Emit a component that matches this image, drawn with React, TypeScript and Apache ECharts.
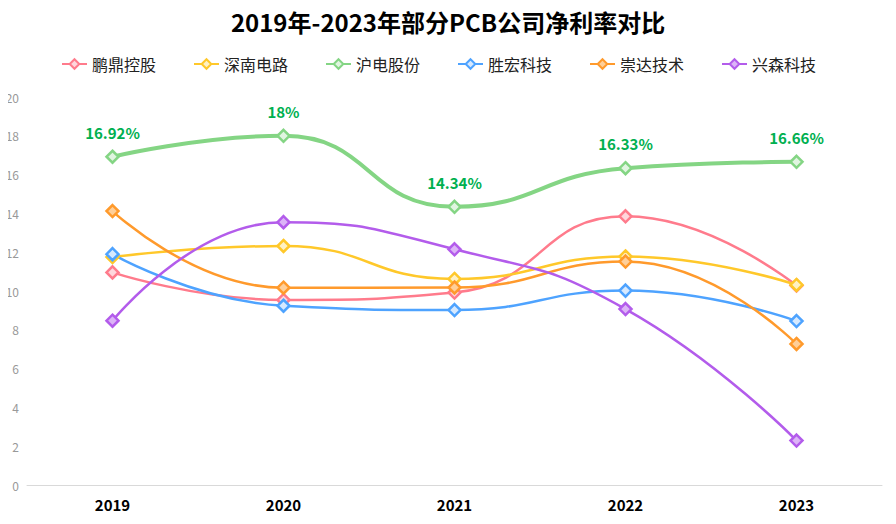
import React, { useEffect, useRef } from "react";
import * as echarts from "echarts";

const years = ["2019", "2020", "2021", "2022", "2023"];
const pengding = [10.96, 9.54, 9.92, 13.85, 10.28];
const shennan = [11.75, 12.32, 10.62, 11.78, 10.31];
const hudian = [16.92, 18, 14.34, 16.33, 16.66];
const shenghong = [11.9, 9.24, 9.02, 10.02, 8.45];
const chongda = [14.12, 10.17, 10.18, 11.52, 7.27];
const xingsen = [8.47, 13.55, 12.15, 9.07, 2.29];

const names = ["鹏鼎控股", "深南电路", "沪电股份", "胜宏科技", "崇达技术", "兴森科技"];
const colors = ["#ff7b8c", "#ffc82a", "#84d584", "#4ea3ff", "#ff9a2c", "#b35ceb"];
const fills = ["#ffd6dc", "#fff1c4", "#e0f5e0", "#d6e9ff", "#ffcf99", "#dcb4f7"];

export default function App() {
  const ref = useRef<HTMLDivElement>(null);
  useEffect(() => {
    if (!ref.current) return;
    const chart = echarts.init(ref.current, null, { renderer: "svg" });
    const data = [pengding, shennan, hudian, shenghong, chongda, xingsen];
    const font = "'Noto Sans CJK SC', 'Noto Sans', sans-serif";
    chart.setOption({
      animation: false,
      textStyle: { fontFamily: font },
      title: {
        text: "2019年-2023年部分PCB公司净利率对比",
        left: "center",
        top: 9,
        padding: 0,
        textStyle: { fontSize: 24, fontWeight: "bold", color: "#000", fontFamily: font },
      },
      legend: {
        top: 51,
        left: 56,
        itemWidth: 25,
        itemHeight: 12,
        itemGap: 37,
        textStyle: { fontSize: 16, color: "#222", fontFamily: font },
        data: names,
      },
      grid: {
        left: 27,
        right: 14,
        top: 97,
        bottom: 39,
        containLabel: false,
        outerBoundsMode: "none",
      },
      xAxis: {
        type: "category",
        data: years,
        axisLine: { lineStyle: { color: "#d9d9d9" } },
        axisTick: { lineStyle: { color: "#d9d9d9" } },
        axisLabel: { fontSize: 15, fontWeight: "bold", color: "#000", margin: 12 },
      },
      yAxis: {
        type: "value",
        min: 0,
        max: 20,
        interval: 2,
        splitLine: { show: false },
        axisLine: { show: false },
        axisTick: { show: false },
        axisLabel: { fontSize: 12, color: "#999", margin: 8 },
      },
      series: data.map((d, i) => ({
        name: names[i],
        type: "line",
        data: d,
        smooth: true,
        symbol: "diamond",
        symbolSize: 12,
        lineStyle: { width: i === 2 ? 4 : 2.5, color: colors[i] },
        itemStyle: { color: fills[i], borderColor: colors[i], borderWidth: 2.5 },
        z: i === 2 ? 3 : 2,
        label:
          i === 2
            ? {
                show: true,
                position: "top",
                distance: 10,
                formatter: "{c}%",
                color: "#00b050",
                fontSize: 15,
                fontWeight: "bold",
              }
            : { show: false },
      })),
    });
    return () => chart.dispose();
  }, []);
  return (
    <div
      ref={ref}
      style={{ width: 896, height: 524, marginLeft: -8, marginTop: -8 }}
    />
  );
}
